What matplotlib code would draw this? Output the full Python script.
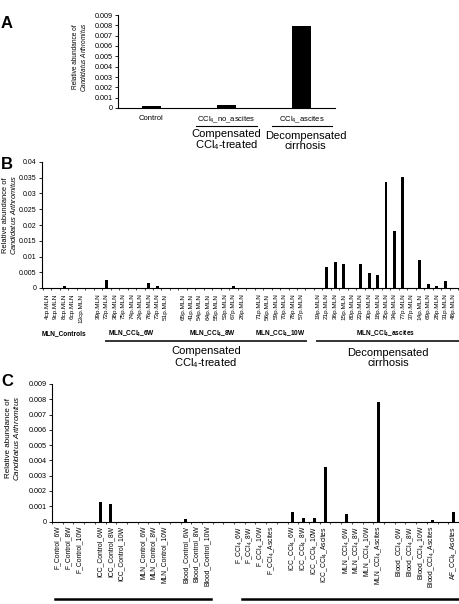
import numpy as np
import matplotlib
matplotlib.use("Agg")
import matplotlib.pyplot as plt
import matplotlib.transforms as mtransforms

plt.rcParams['font.family'] = ['Liberation Sans', 'DejaVu Sans']
plt.rcParams['mathtext.fontset'] = 'custom'
plt.rcParams['mathtext.rm'] = 'Liberation Sans'
plt.rcParams['mathtext.it'] = 'Liberation Sans:italic'
plt.rcParams['mathtext.bf'] = 'Liberation Sans:bold'
plt.rcParams['mathtext.default'] = 'regular'

W, H = 459, 604
YLABEL = "Relative abundance of\n$\\mathit{Candidatus\\ Arthromitus}$"

# ---------------- data ----------------
# Panel A
a_labels = ["Control", "CCl$_4$_no_ascites", "CCl$_4$_ascites"]
a_values = [0.0002, 0.00025, 0.0079]
a_groups = ["", "Compensated\nCCl$_4$-treated", "Decompensated\ncirrhosis"]

# Panel B
b_ctrl = ["4cp.MLN", "9cp.MLN", "8cp.MLN", "6cp.MLN", "13cp.MLN"]
b_ctrl_vals = [0, 0, 0.0007, 0, 0]
b_6w = ["39p.MLN", "72p.MLN", "38p.MLN", "75p.MLN", "74p.MLN", "24p.MLN",
        "76p.MLN", "73p.MLN", "51p.MLN"]
b_6w_vals = [0, 0.0025, 0, 0, 0, 0, 0.0017, 0.0007, 0]
b_8w = ["65p.MLN", "41p.MLN", "54p.MLN", "64p.MLN", "55p.MLN", "53p.MLN",
        "67p.MLN", "26p.MLN"]
b_8w_vals = [0, 0, 0, 0, 0, 0, 0.0007, 0]
b_10w = ["71p.MLN", "56p.MLN", "59p.MLN", "70p.MLN", "78p.MLN", "57p.MLN"]
b_10w_vals = [0, 0, 0, 0, 0, 0]
b_asc = ["19p.MLN", "21p.MLN", "36p.MLN", "15p.MLN", "80p.MLN", "22p.MLN",
         "30p.MLN", "18p.MLN", "35p.MLN", "34p.MLN", "77p.MLN", "37p.MLN",
         "14p.MLN", "69p.MLN", "28p.MLN", "31p.MLN", "48p.MLN"]
b_asc_vals = [0, 0.0067, 0.0083, 0.0075, 0, 0.0075, 0.0048, 0.0041, 0.0335,
              0.0182, 0.0352, 0, 0.009, 0.0014, 0.0006, 0.0022, 0]
b_group_names = ["MLN_Controls", "MLN_CCl$_4$_6W", "MLN_CCl$_4$_8W",
                 "MLN_CCl$_4$_10W", "MLN_CCl$_4$_ascites"]

# Panel C
c_f_ctrl = ["F_Control_6W", "F_Control_8W", "F_Control_10W"]
c_f_ctrl_vals = [0, 0, 0]
c_icc_ctrl = ["ICC_Control_6W", "ICC_Control_8W", "ICC_Control_10W"]
c_icc_ctrl_vals = [0.0013, 0.00115, 0]
c_mln_ctrl = ["MLN_Control_6W", "MLN_Control_8W", "MLN_Control_10W"]
c_mln_ctrl_vals = [0, 0, 0]
c_blood_ctrl = ["Blood_Control_6W", "Blood_Control_8W", "Blood_Control_10W"]
c_blood_ctrl_vals = [0.00015, 0, 0]
c_f_ccl4 = ["F_CCl$_4$_6W", "F_CCl$_4$_8W", "F_CCl$_4$_10W", "F_CCl$_4$_Ascites"]
c_f_ccl4_vals = [0, 0, 0, 0]
c_icc_ccl4 = ["ICC_CCl$_4$_6W", "ICC_CCl$_4$_8W", "ICC_CCl$_4$_10W", "ICC_CCl$_4$_Ascites"]
c_icc_ccl4_vals = [0.00065, 0.0002, 0.0002, 0.0036]
c_mln_ccl4 = ["MLN_CCl$_4$_6W", "MLN_CCl$_4$_8W", "MLN_CCl$_4$_10W", "MLN_CCl$_4$_Ascites"]
c_mln_ccl4_vals = [0.0005, 0, 0, 0.0078]
c_blood_ccl4 = ["Blood_CCl$_4$_6W", "Blood_CCl$_4$_8W", "Blood_CCl$_4$_10W", "Blood_CCl$_4$_Ascites"]
c_blood_ccl4_vals = [0, 0, 0, 0.0001]
c_af = ["AF_CCl$_4$_Ascites"]
c_af_vals = [0.0006]


def px_rect(left, top, right, bottom):
    return [left / W, 1 - bottom / H, (right - left) / W, (bottom - top) / H]


def layout(groups, gaps):
    # positions for grouped categories, with empty slots between groups
    pos, labels, vals, spans = [], [], [], []
    x = 0
    for (names, v), g in zip(groups, gaps):
        start = x
        for n, val in zip(names, v):
            pos.append(x)
            labels.append(n)
            vals.append(val)
            x += 1
        spans.append((start, x - 1))
        x += g
    return np.array(pos), labels, vals, spans


def style(ax, ytick_fs):
    for s in ["top", "right"]:
        ax.spines[s].set_visible(False)
    for s in ["left", "bottom"]:
        ax.spines[s].set_linewidth(0.8)
    ax.tick_params(axis="y", length=2.5, width=0.6, pad=1.5, labelsize=ytick_fs)


fig = plt.figure(figsize=(W / 100, H / 100), dpi=100)

# ---------------- Panel A ----------------
axA = fig.add_axes(px_rect(118, 15, 335, 108))
xa = np.arange(len(a_values))
axA.bar(xa, a_values, width=0.25, color="black")
axA.set_xlim(-0.44, 2.44)
axA.set_ylim(0, 0.009)
axA.set_yticks(np.arange(0, 0.0091, 0.001))
axA.yaxis.set_major_formatter(matplotlib.ticker.FuncFormatter(
    lambda v, p: "0" if abs(v) < 1e-12 else f"{v:.3f}"))
style(axA, 5.2)
axA.set_xticks(xa)
axA.set_xticklabels(a_labels, fontsize=5.5)
axA.tick_params(axis="x", length=0, pad=5)
tA = mtransforms.blended_transform_factory(axA.transData, axA.transAxes)
for i, g in enumerate(a_groups):
    if i > 0:
        axA.plot([i - 0.4, i + 0.4], [-0.195, -0.195], color="black", lw=0.8,
                 transform=tA, clip_on=False)
    if g:
        axA.text(i + (0.05 if i == 2 else 0), -0.35, g, transform=tA,
                 ha="center", va="center", fontsize=8.0, linespacing=1.0)
fig.text(80 / W, 1 - 57 / H, YLABEL, rotation=90, ha="center", va="center",
         fontsize=4.7, linespacing=1.1)
fig.text(1 / W, 1 - 23 / H, "A", fontsize=12, fontweight="bold", va="center")

# ---------------- Panel B ----------------
axB = fig.add_axes(px_rect(42, 162, 458, 288))
xb, lb, vb, spb = layout(
    [(b_ctrl, b_ctrl_vals), (b_6w, b_6w_vals), (b_8w, b_8w_vals),
     (b_10w, b_10w_vals), (b_asc, b_asc_vals)], [1, 1, 1, 1, 0])
axB.bar(xb, vb, width=0.35, color="black")
axB.set_xlim(-0.6, 48.5)
axB.set_ylim(0, 0.04)
axB.set_yticks(np.arange(0, 0.0401, 0.005))
axB.yaxis.set_major_formatter(matplotlib.ticker.FuncFormatter(
    lambda v, p: "0" if abs(v) < 1e-12 else f"{v:g}"))
style(axB, 5.0)
axB.set_xticks(xb)
axB.set_xticklabels(lb, rotation=90, fontsize=4.6)
axB.tick_params(axis="x", which="major", length=0, pad=4)
axB.set_xticks(np.arange(-0.5, 48.6, 1), minor=True)
axB.tick_params(axis="x", which="minor", length=1.5, width=0.5)
tB = mtransforms.blended_transform_factory(axB.transData, axB.transAxes)
for (s, e), name in zip(spb, b_group_names):
    axB.text((s + e) / 2, -0.365, name, transform=tB, ha="center", va="center",
             fontsize=4.7, fontweight="bold")
for (s, e), name in [((6.9, 30.6), "Compensated\nCCl$_4$-treated"),
                     ((31.9, 48.6), "Decompensated\ncirrhosis")]:
    axB.plot([s, e], [-0.42, -0.42], color="#333333", lw=1.4, transform=tB,
             clip_on=False)
    axB.text((s + e) / 2, -0.555, name, transform=tB, ha="center", va="center",
             fontsize=8.0, linespacing=1.0)
fig.text(10 / W, 1 - 215 / H, YLABEL, rotation=90, ha="center", va="center",
         fontsize=5.4, linespacing=1.1)
fig.text(1 / W, 1 - 164 / H, "B", fontsize=12, fontweight="bold", va="center")

# ---------------- Panel C ----------------
axC = fig.add_axes(px_rect(52, 384, 459, 521.5))
xc, lc, vc, spc = layout(
    [(c_f_ctrl, c_f_ctrl_vals), (c_icc_ctrl, c_icc_ctrl_vals),
     (c_mln_ctrl, c_mln_ctrl_vals), (c_blood_ctrl, c_blood_ctrl_vals),
     (c_f_ccl4, c_f_ccl4_vals), (c_icc_ccl4, c_icc_ccl4_vals),
     (c_mln_ccl4, c_mln_ccl4_vals), (c_blood_ccl4, c_blood_ccl4_vals),
     (c_af, c_af_vals)], [1, 1, 1, 2, 1, 1, 1, 1, 0])
axC.bar(xc, vc, width=0.28, color="black")
axC.set_xlim(-0.46, 37.15)
axC.set_ylim(0, 0.009)
axC.set_yticks(np.arange(0, 0.0091, 0.001))
axC.yaxis.set_major_formatter(matplotlib.ticker.FuncFormatter(
    lambda v, p: "0" if abs(v) < 1e-12 else f"{v:.3f}"))
style(axC, 5.2)
axC.set_xticks(xc)
axC.set_xticklabels(lc, rotation=90, fontsize=4.9)
axC.tick_params(axis="x", which="major", length=0, pad=3)
axC.set_xticks(np.arange(-0.5, 37.6, 1), minor=True)
axC.tick_params(axis="x", which="minor", length=1.5, width=0.5)
tC = mtransforms.blended_transform_factory(axC.transData, axC.transAxes)
for s, e in [(-0.2, 14.3), (17.2, 38.0)]:
    axC.plot([s, e], [-0.564, -0.564], color="black", lw=1.8, transform=tC,
             clip_on=False)
fig.text(13 / W, 1 - 438 / H, YLABEL, rotation=90, ha="center", va="center",
         fontsize=5.8, linespacing=1.1)
fig.text(1 / W, 1 - 381 / H, "C", fontsize=12, fontweight="bold", va="center")

fig.savefig("out.png", dpi=100)
